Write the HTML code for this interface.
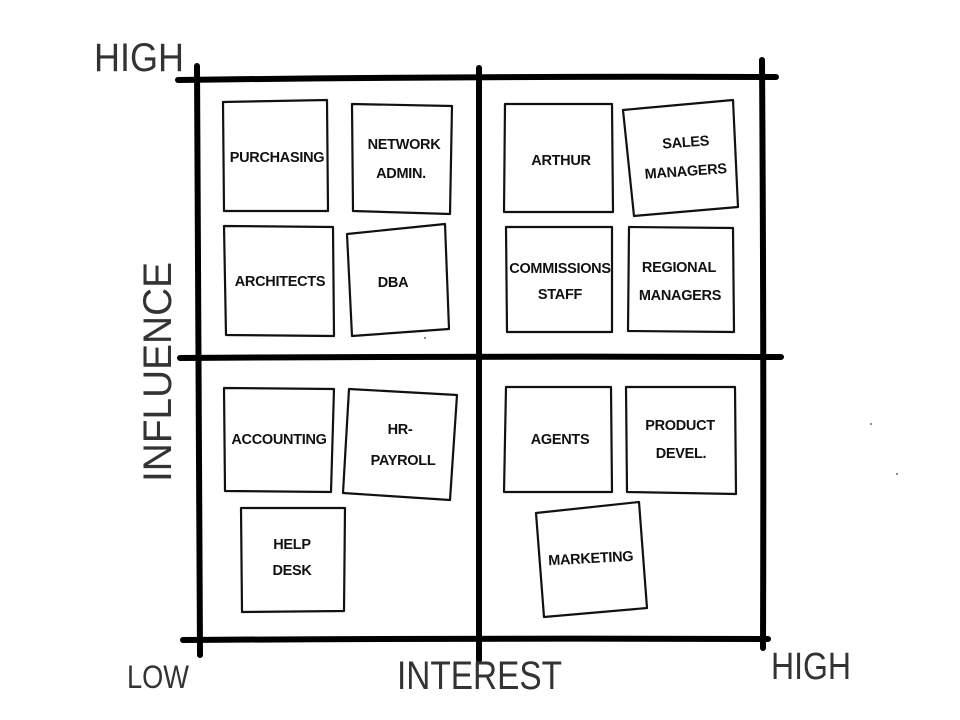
<!DOCTYPE html>
<html><head><meta charset="utf-8"><style>
html,body{margin:0;padding:0;background:#fff;}
svg{display:block}
text{font-family:"Liberation Sans Narrow","Liberation Sans",sans-serif;fill:#111;}
.b{fill:none;stroke:#111;stroke-width:2.2;stroke-linejoin:round}
.g{stroke:#000;stroke-width:6;stroke-linecap:round;fill:none}
.t{font-size:14.5px;text-anchor:middle;letter-spacing:-0.3px;font-weight:bold}
.ax{fill:#333}
</style></head><body>
<svg width="960" height="720" viewBox="0 0 960 720">
<path class="g" d="M178 80 Q480 76 776 77"/>
<path class="g" d="M180 358 Q480 356 781 357"/>
<path class="g" d="M183 640 Q480 638 768 639"/>
<path class="g" d="M197 66 Q198 360 200 655"/>
<path class="g" d="M479 68 Q480 360 479 660"/>
<path class="g" d="M762 60 Q764 360 763 648"/>
<polygon class="b" points="223,102 327,100 328,211 224,211"/>
<polygon class="b" points="352,104 452,106 450,214 353,211"/>
<polygon class="b" points="224,226 333,227 334,336 226,335"/>
<polygon class="b" points="347,234 445,224 449,329 352,336"/>
<polygon class="b" points="505,104 612,104 613,212 504,212"/>
<polygon class="b" points="623,110 733,100 738,207 634,216"/>
<polygon class="b" points="506,227 612,227 612,332 507,332"/>
<polygon class="b" points="629,227 733,228 734,332 628,331"/>
<polygon class="b" points="224,388 334,389 331,492 225,491"/>
<polygon class="b" points="349,389 457,395 450,500 343,493"/>
<polygon class="b" points="241,508 345,508 344,611 242,612"/>
<polygon class="b" points="506,387 611,387 612,492 504,492"/>
<polygon class="b" points="626,387 735,387 736,494 627,492"/>
<polygon class="b" points="536,513 639,502 647,608 544,617"/>
<text class="t" x="277" y="162">PURCHASING</text>
<text class="t" x="404" y="149">NETWORK</text>
<text class="t" x="401" y="178">ADMIN.</text>
<text class="t" x="280" y="286">ARCHITECTS</text>
<text class="t" x="393" y="287">DBA</text>
<text class="t" x="561" y="165">ARTHUR</text>
<text class="t" x="686" y="147" transform="rotate(-4 686 147)">SALES</text>
<text class="t" x="686" y="176" transform="rotate(-4 686 176)">MANAGERS</text>
<text class="t" x="560" y="273">COMMISSIONS</text>
<text class="t" x="560" y="299">STAFF</text>
<text class="t" x="679" y="272">REGIONAL</text>
<text class="t" x="680" y="300">MANAGERS</text>
<text class="t" x="279" y="444">ACCOUNTING</text>
<text class="t" x="400" y="434">HR-</text>
<text class="t" x="403" y="465">PAYROLL</text>
<text class="t" x="292" y="549">HELP</text>
<text class="t" x="292" y="575">DESK</text>
<text class="t" x="560" y="444">AGENTS</text>
<text class="t" x="680" y="430">PRODUCT</text>
<text class="t" x="681" y="458">DEVEL.</text>
<text class="t" x="591" y="563" transform="rotate(-3 591 563)">MARKETING</text>
<text class="ax" x="94" y="71" style="font-size:40px" textLength="90" lengthAdjust="spacingAndGlyphs">HIGH</text>
<text class="ax" x="127" y="688" style="font-size:32px" textLength="62" lengthAdjust="spacingAndGlyphs">LOW</text>
<text class="ax" x="397" y="689" style="font-size:40px" textLength="165" lengthAdjust="spacingAndGlyphs">INTEREST</text>
<text class="ax" x="771" y="679" style="font-size:38px" textLength="80" lengthAdjust="spacingAndGlyphs">HIGH</text>
<text class="ax" x="0" y="0" style="font-size:40px" textLength="220" lengthAdjust="spacingAndGlyphs" transform="translate(171 482) rotate(-90)">INFLUENCE</text>
<circle cx="871" cy="424" r="1" fill="#666"/>
<circle cx="897" cy="474" r="1" fill="#666"/>
<circle cx="425" cy="338" r="1" fill="#666"/>
</svg>
</body></html>
